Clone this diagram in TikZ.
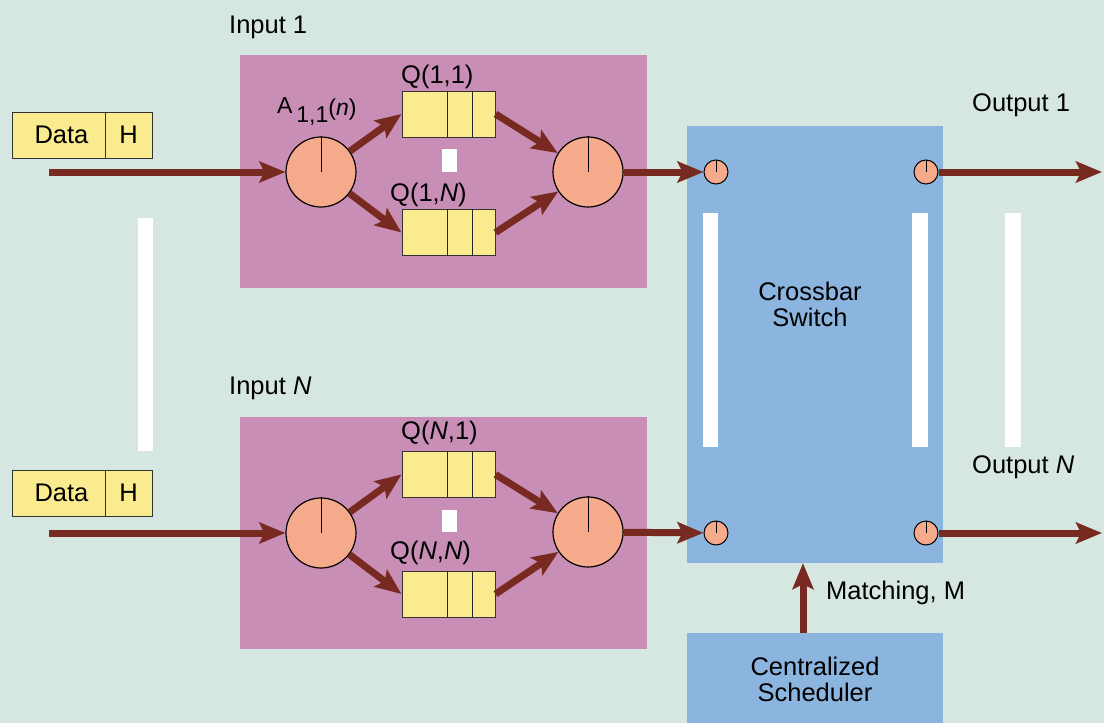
\documentclass[tikz,border=0pt]{standalone}
\usepackage{fontspec}
\setmainfont{Liberation Sans}
\usetikzlibrary{arrows.meta}
\definecolor{bgc}{RGB}{214,231,225}
\definecolor{pinkc}{RGB}{201,142,182}
\definecolor{bluec}{RGB}{139,180,222}
\definecolor{qyellow}{RGB}{250,236,142}
\definecolor{salmon}{RGB}{246,170,140}
\definecolor{arrowc}{RGB}{120,42,32}
\begin{document}
\begin{tikzpicture}[x=1pt,y=-1pt,
  font=\fontsize{25.5}{29}\selectfont,
  arr/.style={draw=arrowc, line width=7pt, -{Stealth[length=26pt,width=21pt,inset=5pt]}},
  bigc/.style={circle, draw=black, line width=1.2pt, fill=salmon, minimum size=70pt, inner sep=0pt},
  smallc/.style={circle, draw=black, line width=1pt, fill=salmon, minimum size=24pt, inner sep=0pt},
  queue/.style={rectangle, draw=black!80, line width=1pt, fill=qyellow, minimum width=93pt, minimum height=46pt, inner sep=0pt},
  pkt/.style={rectangle, draw=black!80, line width=1pt, fill=qyellow, minimum height=46pt, inner sep=0pt},
  bar/.style={fill=white},
  lbl/.style={anchor=west, inner sep=0pt}]
\useasboundingbox (0,0) rectangle (1104,723);
\fill[bgc] (0,0) rectangle (1104,723);

% white separator bars
\fill[bar] (138,218) rectangle (153,451);
\fill[bar] (1005,213) rectangle (1021,447);

% input boxes
\fill[pinkc] (240,55) rectangle (647,288);
\fill[pinkc] (240,417) rectangle (647,649);

% switch and scheduler
\node[rectangle, fill=bluec, minimum width=256pt, minimum height=437pt, inner sep=0pt] (sw) at (815,344.5) {};
\node[rectangle, fill=bluec, minimum width=256pt, minimum height=92pt, inner sep=0pt, align=center] (sched) at (815,679) {Centralized\\[-3pt]Scheduler};
\fill[bar] (703,213) rectangle (718,447);
\fill[bar] (912,213) rectangle (928,447);
\node[align=center] (swl) at (810,304) {Crossbar\\[-3pt]Switch};

% labels
\node[lbl] (in1) at (229,27) {Input 1};
\node[lbl] (inN) at (229,388) {Input \textit{N}};
\node[lbl] (out1) at (972,105) {Output 1};
\node[lbl] (outN) at (972,467) {Output \textit{N}};
\node[lbl] (match) at (826,593) {Matching, M};
\node[anchor=base west, inner sep=0pt, font=\fontsize{23}{25}\selectfont] (a11) at (277,113) {A\,\raisebox{-9pt}{1,1}\raisebox{-2pt}{(\textit{n})}};

% packets
\node[pkt, minimum width=93pt] (d1) at (58.5,135) {\hspace*{6pt}Data};
\node[pkt, minimum width=47pt] (h1) at (128.5,135) {H};
\node[pkt, minimum width=93pt] (dN) at (58.5,493) {\hspace*{6pt}Data};
\node[pkt, minimum width=47pt] (hN) at (128.5,493) {H};

% circles
\node[bigc] (c1) at (321,172) {};
\node[bigc] (c2) at (588,172) {};
\node[bigc] (cN1) at (321,533) {};
\node[bigc] (cN2) at (588,532) {};
\foreach \n in {c1,c2,cN1,cN2} \draw[line width=1pt] (\n.center) -- (\n.north);

\node[smallc] (si1) at (716,172) {};
\node[smallc] (so1) at (926,172) {};
\node[smallc] (siN) at (716,533) {};
\node[smallc] (soN) at (926,533) {};
\foreach \n in {si1,so1,siN,soN} \draw[line width=1pt] (\n.center) -- (\n.north);

% queues
\node[queue] (q11) at (448.5,114) {};
\node[queue] (q1N) at (448.5,232.5) {};
\node[queue] (qN1) at (448.5,474.5) {};
\node[queue] (qNN) at (448.5,594) {};
\foreach \n in {q11,q1N,qN1,qNN} {
  \draw[line width=1pt, black!85] ([xshift=46pt]\n.north west) -- ([xshift=46pt]\n.south west);
  \draw[line width=1pt, black!85] ([xshift=71pt]\n.north west) -- ([xshift=71pt]\n.south west);
}
\node[lbl] (lq11) at (401,77) {Q(1,1)};
\node[lbl] (lq1N) at (390,195) {Q(1,\textit{N})};
\node[lbl] (lqN1) at (401,433) {Q(\textit{N},1)};
\node[lbl] (lqNN) at (390,553) {Q(\textit{N},\textit{N})};
\fill[bar] (442,149) rectangle (457,172);
\fill[bar] (442,510) rectangle (457,532);

% connectors
\coordinate (s1) at (49,172);
\coordinate (sN) at (49,533);
\coordinate (e1) at (1102,172);
\coordinate (eN) at (1102,533);
\draw[arr] (s1) -- (c1);
\draw[arr] (c1) -- (q11.west);
\draw[arr] (c1) -- (q1N.west);
\draw[arr] (q11.east) -- (c2);
\draw[arr] (q1N.east) -- (c2);
\draw[arr] (c2) -- (si1);
\draw[arr] (so1) -- (e1);
\draw[arr] (sN) -- (cN1);
\draw[arr] (cN1) -- (qN1.west);
\draw[arr] (cN1) -- (qNN.west);
\draw[arr] (qN1.east) -- (cN2);
\draw[arr] (qNN.east) -- (cN2);
\draw[arr] (cN2) -- (siN);
\draw[arr] (soN) -- (eN);
\draw[arr] ([xshift=-12pt]sched.north) -- ([xshift=-12pt]sw.south);
\end{tikzpicture}
\end{document}
